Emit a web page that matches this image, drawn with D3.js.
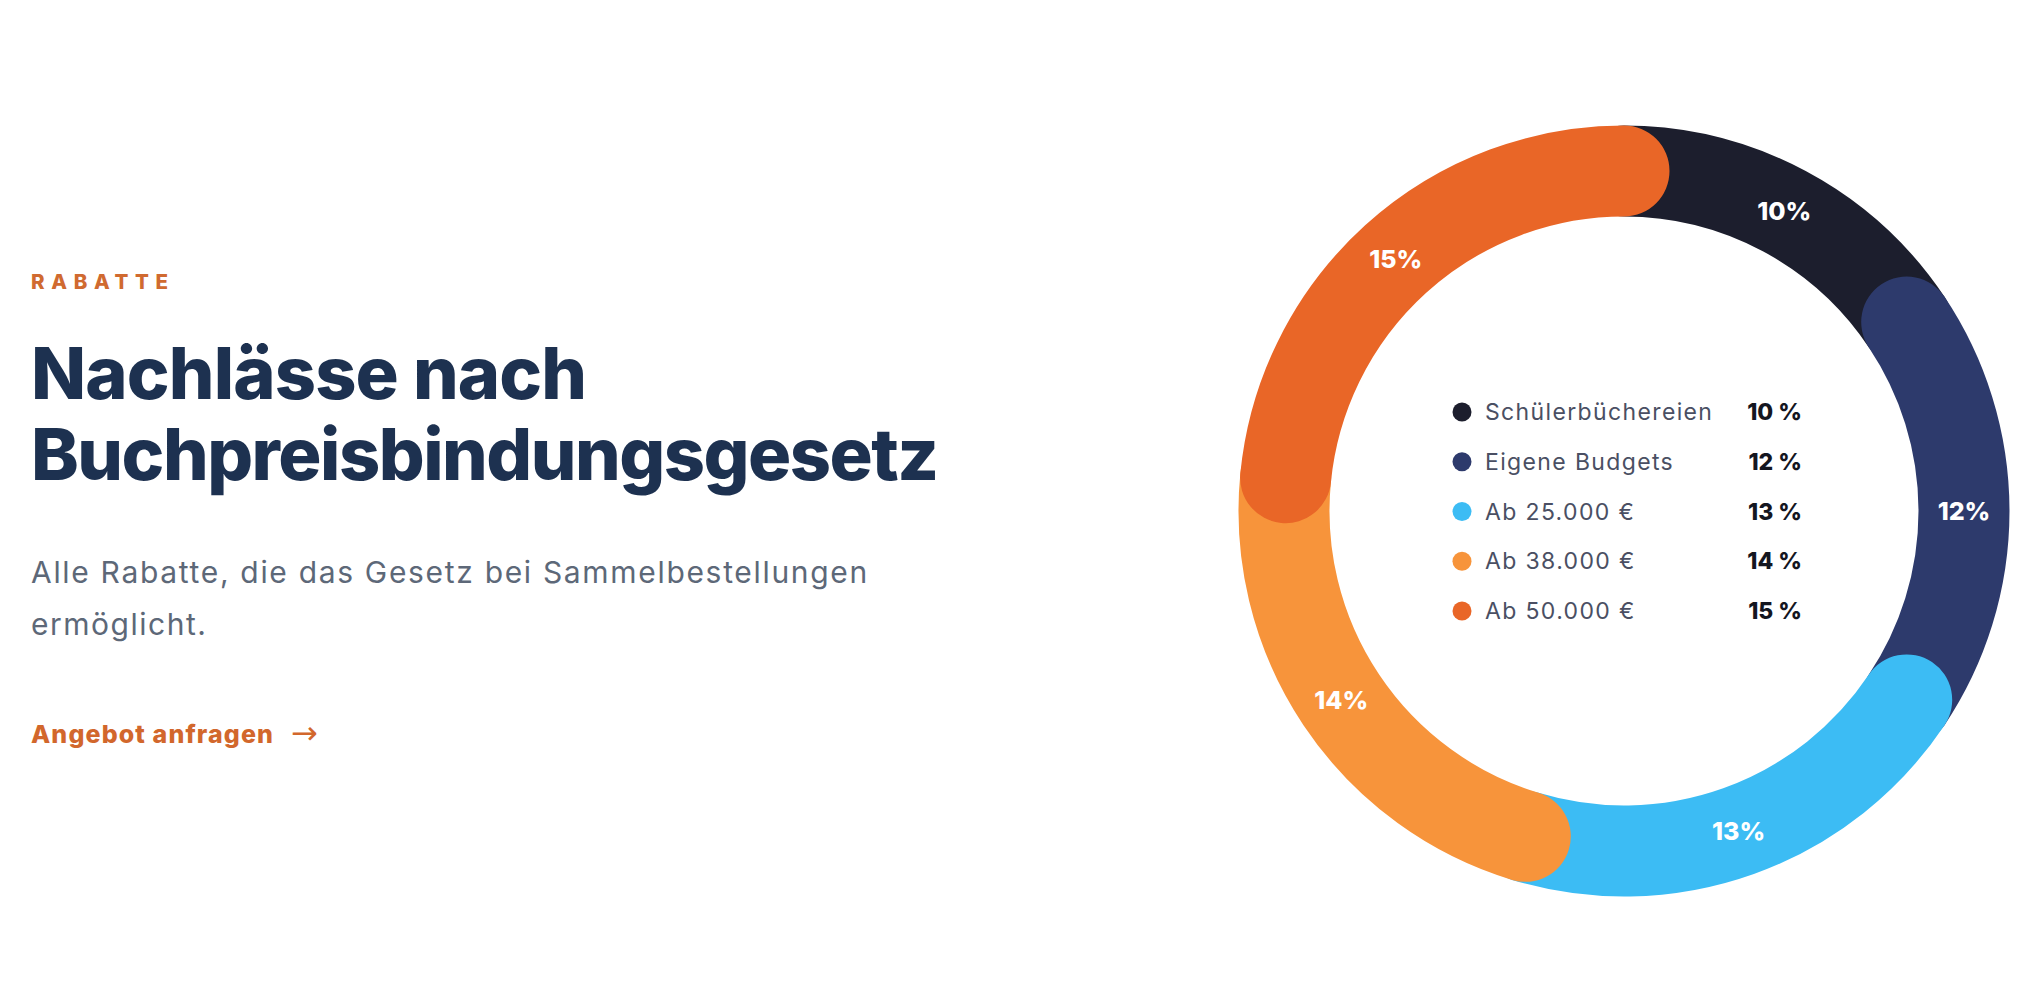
<!DOCTYPE html>
<html>
<head>
<meta charset="utf-8">
<script src="https://cdn.jsdelivr.net/npm/d3@7"></script>
<style>
  html, body { margin: 0; padding: 0; background: #ffffff; }
  svg { display: block; }
</style>
</head>
<body>
<svg id="chart" width="2044" height="996"></svg>
<script>
// ---- data ----
const categories = ["Schülerbüchereien", "Eigene Budgets", "Ab 25.000 €", "Ab 38.000 €", "Ab 50.000 €"];
const values = [10, 12, 13, 14, 15];
const ringLabels = ["10%", "12%", "13%", "14%", "15%"];
const legendValues = ["10 %", "12 %", "13 %", "14 %", "15 %"];
const colors = ["#1c1e2d", "#2d3a6c", "#3cbcf4", "#f7943b", "#e96627"];

const eyebrow = "RABATTE";
const titleLines = ["Nachlässe nach", "Buchpreisbindungsgesetz"];
const subtitleLines = ["Alle Rabatte, die das Gesetz bei Sammelbestellungen", "ermöglicht."];
const ctaText = "Angebot anfragen";

// ---- layout ----
const svg = d3.select("#chart");
const FONT = "Inter, 'Noto Sans', sans-serif";

function fitWidth(sel, target) {
  const node = sel.node();
  const n = sel.text().length;
  const w = node.getComputedTextLength();
  const ls = (target - w) / Math.max(1, n - 1);
  sel.attr("letter-spacing", ls.toFixed(2) + "px");
  return ls;
}

// Left text block
const left = svg.append("g");
const x0 = 31;

fitWidth(left.append("text")
  .attr("x", x0).attr("y", 289)
  .attr("font-family", FONT).attr("font-weight", 800).attr("font-size", 20.5)
  .attr("fill", "#d06a30")
  .text(eyebrow), 137);

[399, 480].forEach((y, i) => {
  const t = left.append("text")
    .attr("x", x0).attr("y", y)
    .attr("font-family", FONT).attr("font-weight", 800).attr("font-size", 72)
    .attr("fill", "#1d3150")
    .text(titleLines[i]);
  fitWidth(t, i === 0 ? 556 : 908);
});

const subWidths = [836, 175];
[583, 635].forEach((y, i) => {
  const t = left.append("text")
    .attr("x", x0).attr("y", y)
    .attr("font-family", FONT).attr("font-weight", 400).attr("font-size", 30)
    .attr("fill", "#5d6878")
    .text(subtitleLines[i]);
  fitWidth(t, subWidths[i]);
});

const cta = left.append("text")
  .attr("x", x0).attr("y", 743)
  .attr("font-family", FONT).attr("font-weight", 800).attr("font-size", 25)
  .attr("fill", "#d2672c")
  .text(ctaText);
fitWidth(cta, 242);
left.append("text")
  .attr("x", 291).attr("y", 744)
  .attr("font-family", "'DejaVu Sans', sans-serif").attr("font-weight", 400).attr("font-size", 32)
  .attr("fill", "#d2672c")
  .text("→");

// Donut
const cx = 1624, cy = 511;
const rMid = 340, ringWidth = 91;
const g = svg.append("g").attr("transform", `translate(${cx},${cy})`);

const pie = d3.pie().sort(null).value(d => d);
const arcs = pie(values);

g.selectAll("path.seg")
  .data(arcs)
  .join("path")
  .attr("class", "seg")
  .attr("d", d => {
    const p = d3.path();
    p.arc(0, 0, rMid, d.startAngle - Math.PI / 2, d.endAngle - Math.PI / 2);
    return p.toString();
  })
  .attr("fill", "none")
  .attr("stroke", (d, i) => colors[i])
  .attr("stroke-width", ringWidth)
  .attr("stroke-linecap", "round");

const labelArc = d3.arc().innerRadius(rMid).outerRadius(rMid);
g.selectAll("text.pct")
  .data(arcs)
  .join("text")
  .attr("class", "pct")
  .attr("transform", d => `translate(${labelArc.centroid(d)})`)
  .attr("text-anchor", "middle")
  .attr("dominant-baseline", "central")
  .attr("font-family", FONT).attr("font-weight", 800).attr("font-size", 25)
  .attr("fill", "#ffffff")
  .text((d, i) => ringLabels[i]);

// Legend
const legendY = d3.scalePoint().domain(categories).range([412, 611]);
const legend = svg.append("g");
const rows = legend.selectAll("g.row").data(categories).join("g")
  .attr("class", "row")
  .attr("transform", d => `translate(0,${legendY(d)})`);

rows.append("circle")
  .attr("cx", 1462).attr("cy", 0).attr("r", 9.5)
  .attr("fill", (d, i) => colors[i]);

const labels = rows.append("text")
  .attr("x", 1485).attr("y", 0)
  .attr("dominant-baseline", "central")
  .attr("font-family", FONT).attr("font-weight", 400).attr("font-size", 23)
  .attr("fill", "#4a4f63")
  .text(d => d);
const ls = fitWidth(d3.select(labels.nodes()[0]), 227);
labels.attr("letter-spacing", ls.toFixed(2) + "px");

rows.append("text")
  .attr("x", 1802).attr("y", 0)
  .attr("text-anchor", "end")
  .attr("dominant-baseline", "central")
  .attr("font-family", FONT).attr("font-weight", 800).attr("font-size", 23)
  .attr("fill", "#14161f")
  .text((d, i) => legendValues[i]);
</script>
</body>
</html>
